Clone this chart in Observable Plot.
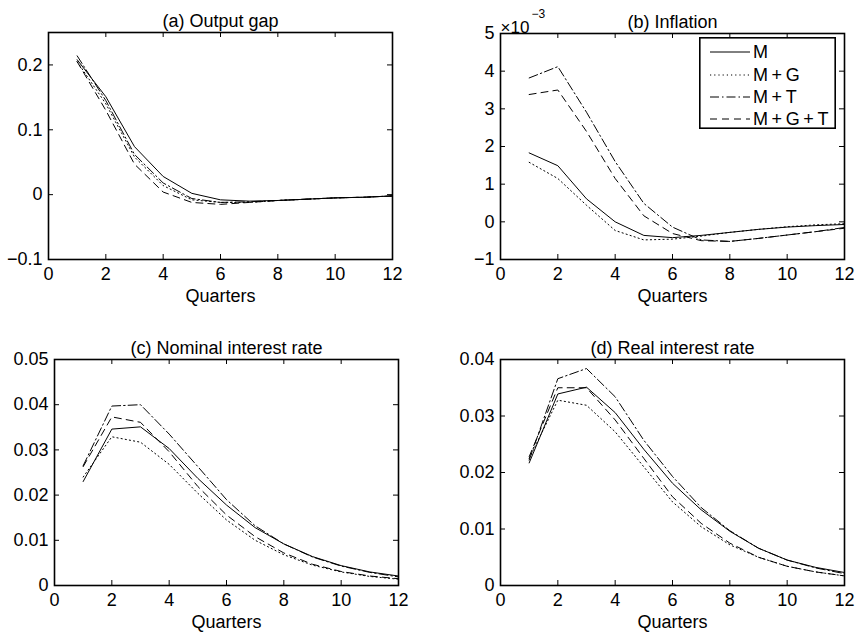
<!DOCTYPE html>
<html><head><meta charset="utf-8">
<script src="https://cdn.jsdelivr.net/npm/d3@7"></script>
<script src="https://cdn.jsdelivr.net/npm/@observablehq/plot@0.6"></script>
<style>
html,body{margin:0;padding:0;background:#fff;}
#chart{position:relative;width:861px;height:637px;overflow:hidden;background:#fff;font-family:"Liberation Sans",Arial,Helvetica,sans-serif;}
#chart > svg, #chart > div {position:absolute;}
</style></head><body><div id="chart"></div>
<script>
// ---------- data ----------
const quarters = [1,2,3,4,5,6,7,8,9,10,11,12];
const seriesNames = ["M", "M\u2009+\u2009G", "M\u2009+\u2009T", "M\u2009+\u2009G\u2009+\u2009T"];
const xTicks = [0,2,4,6,8,10,12];

// (a) Output gap
const gapM   = [0.208, 0.151, 0.074, 0.028, 0.002, -0.008, -0.010, -0.009, -0.007, -0.005, -0.004, -0.002];
const gapMG  = [0.205, 0.140, 0.058, 0.014, -0.008, -0.012, -0.012, -0.009, -0.007, -0.005, -0.004, -0.002];
const gapMT  = [0.214, 0.145, 0.062, 0.018, -0.006, -0.012, -0.011, -0.009, -0.007, -0.005, -0.004, -0.002];
const gapMGT = [0.205, 0.130, 0.047, 0.004, -0.012, -0.015, -0.012, -0.009, -0.007, -0.005, -0.004, -0.002];
const gapTicks = [-0.1, 0, 0.1, 0.2];

// (b) Inflation (x 10^-3)
const infM   = [1.83, 1.49, 0.61, 0.00, -0.36, -0.42, -0.36, -0.28, -0.20, -0.14, -0.10, -0.07];
const infMG  = [1.58, 1.15, 0.44, -0.23, -0.48, -0.46, -0.38, -0.28, -0.20, -0.13, -0.08, -0.05];
const infMT  = [3.82, 4.12, 2.91, 1.60, 0.49, -0.14, -0.48, -0.52, -0.44, -0.35, -0.26, -0.15];
const infMGT = [3.38, 3.50, 2.40, 1.15, 0.16, -0.31, -0.50, -0.52, -0.44, -0.35, -0.26, -0.17];
const infTicks = [-1, 0, 1, 2, 3, 4, 5];
const infScaleLabel = "\u00d710";
const infScaleExp = "\u22123";

// (c) Nominal interest rate
const nomM   = [0.0230, 0.0346, 0.0351, 0.0303, 0.0237, 0.0178, 0.0128, 0.0092, 0.0064, 0.0044, 0.0030, 0.0021];
const nomMG  = [0.0240, 0.0329, 0.0317, 0.0268, 0.0204, 0.0145, 0.0100, 0.0068, 0.0045, 0.0030, 0.0020, 0.0014];
const nomMT  = [0.0265, 0.0397, 0.0400, 0.0335, 0.0263, 0.0190, 0.0132, 0.0092, 0.0063, 0.0043, 0.0029, 0.0019];
const nomMGT = [0.0263, 0.0373, 0.0361, 0.0296, 0.0219, 0.0156, 0.0108, 0.0072, 0.0047, 0.0031, 0.0021, 0.0015];
const nomTicks = [0, 0.01, 0.02, 0.03, 0.04, 0.05];

// (d) Real interest rate
const realM   = [0.0217, 0.0339, 0.0351, 0.0306, 0.0241, 0.0181, 0.0134, 0.0096, 0.0066, 0.0045, 0.0032, 0.0023];
const realMG  = [0.0225, 0.0328, 0.0319, 0.0272, 0.0210, 0.0148, 0.0104, 0.0072, 0.0050, 0.0034, 0.0024, 0.0017];
const realMT  = [0.0222, 0.0366, 0.0384, 0.0334, 0.0257, 0.0193, 0.0138, 0.0097, 0.0066, 0.0045, 0.0031, 0.0021];
const realMGT = [0.0228, 0.0350, 0.0350, 0.0293, 0.0225, 0.0157, 0.0110, 0.0075, 0.0050, 0.0034, 0.0024, 0.0017];
const realTicks = [0, 0.01, 0.02, 0.03, 0.04];

// ---------- styles ----------
const dashes = ["none", "1.2,3", "9,3,1.5,3", "7,5"];
const FONT = 18;
const FAMILY = "'Liberation Sans', Arial, Helvetica, sans-serif";
const chart = document.getElementById("chart");
const fmtNum = d => d === 0 ? "0" : String(d).replace("-", "\u2212");

function panel(o) {
  const innerW = o.width - o.mL - o.mR, innerH = o.height - o.mT - o.mB;
  const tick = {stroke: "black", strokeWidth: 1};
  const marks = [
    Plot.tickX(xTicks, {x: d => d, insetBottom: innerH - 5, ...tick}),
    Plot.tickX(xTicks, {x: d => d, insetTop: innerH - 5, ...tick}),
    Plot.tickY(o.yTicks, {y: d => d, insetRight: innerW - 5, ...tick}),
    Plot.tickY(o.yTicks, {y: d => d, insetLeft: innerW - 5, ...tick}),
    Plot.axisX({ticks: xTicks, tickSize: 0, tickPadding: 8, tickFormat: d => String(d), label: null, fontSize: FONT}),
    Plot.axisY({ticks: o.yTicks, tickSize: 0, tickPadding: 6, tickFormat: fmtNum, label: null, fontSize: FONT}),
    ...o.series.map((s, i) => Plot.line(quarters.map((q, j) => ({q, v: s[j]})),
      {x: "q", y: "v", stroke: "black", strokeWidth: 1, strokeDasharray: dashes[i]})),
    Plot.frame({stroke: "black", strokeWidth: 1.6}),
    Plot.text([o.title], {frameAnchor: "top", dy: -18, fontSize: FONT}),
    Plot.text(["Quarters"], {frameAnchor: "bottom", dy: 42, fontSize: FONT})
  ];
  if (o.extra) marks.push(...o.extra);
  const svg = Plot.plot({
    width: o.width, height: o.height,
    marginLeft: o.mL, marginRight: o.mR, marginTop: o.mT, marginBottom: o.mB,
    x: {domain: [0, 12]},
    y: {domain: o.yDomain},
    style: {fontFamily: FAMILY, fontSize: FONT + "px", background: "white", color: "black", overflow: "visible"},
    marks
  });
  svg.style.left = o.left + "px";
  svg.style.top = o.top + "px";
  chart.appendChild(svg);
}

panel({title: "(a) Output gap", series: [gapM, gapMG, gapMT, gapMGT], yDomain: [-0.1, 0.25], yTicks: gapTicks,
  left: 0, top: 0, width: 430, height: 318, mL: 48, mR: 38, mT: 32, mB: 59});
panel({title: "(b) Inflation", series: [infM, infMG, infMT, infMGT], yDomain: [-1, 5], yTicks: infTicks,
  left: 430, top: 0, width: 431, height: 318, mL: 70, mR: 17, mT: 33, mB: 59,
  extra: [
    Plot.text([infScaleLabel], {frameAnchor: "top-left", textAnchor: "start", dy: -13, fontSize: 17}),
    Plot.text([infScaleExp], {frameAnchor: "top-left", textAnchor: "start", dx: 31, dy: -24, fontSize: 12})
  ]});
panel({title: "(c) Nominal interest rate", series: [nomM, nomMG, nomMT, nomMGT], yDomain: [0, 0.05], yTicks: nomTicks,
  left: 0, top: 318, width: 430, height: 319, mL: 54, mR: 32, mT: 41, mB: 52});
panel({title: "(d) Real interest rate", series: [realM, realMG, realMT, realMGT], yDomain: [0, 0.04], yTicks: realTicks,
  left: 430, top: 318, width: 431, height: 319, mL: 70, mR: 17, mT: 41, mB: 52});

// ---------- legend (panel b) ----------
const lg = d3.create("svg").attr("width", 137).attr("height", 92)
  .style("left", "699px").style("top", "37px").style("position", "absolute");
lg.append("rect").attr("x", 0.8).attr("y", 0.8).attr("width", 135.4).attr("height", 90.4)
  .attr("fill", "white").attr("stroke", "black").attr("stroke-width", 1.6);
const rowY = [15, 38, 60, 82];
seriesNames.forEach((name, i) => {
  lg.append("line").attr("x1", 11).attr("x2", 51).attr("y1", rowY[i]).attr("y2", rowY[i])
    .attr("stroke", "black").attr("stroke-width", 1).attr("stroke-dasharray", dashes[i]);
  lg.append("text").attr("x", 54).attr("y", rowY[i]).attr("dy", "0.35em")
    .attr("font-size", FONT).attr("font-family", FAMILY).text(name);
});
chart.appendChild(lg.node());
</script></body></html>
